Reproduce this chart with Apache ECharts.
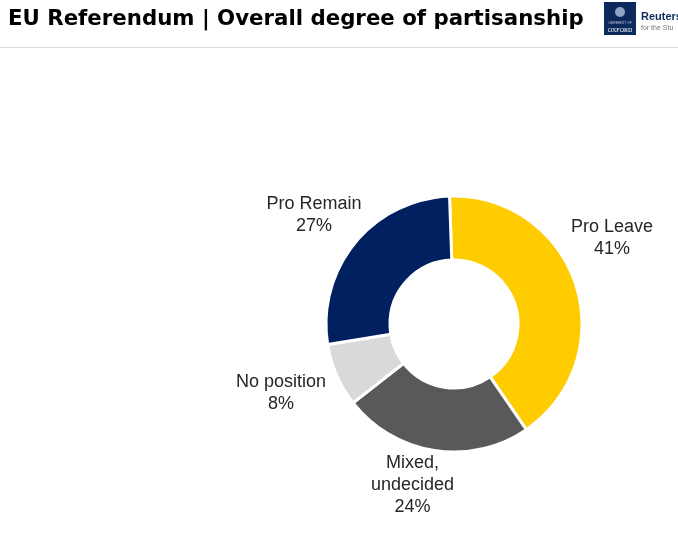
<!DOCTYPE html>
<html>
<head>
<meta charset="utf-8">
<script src="https://cdn.jsdelivr.net/npm/echarts@6/dist/echarts.min.js"></script>
<style>html,body{margin:0;padding:0;background:#fff;}#c{width:678px;height:549px;}</style>
</head>
<body>
<div id="c"></div>
<script>
const categories = ['Pro Leave', 'Mixed,\nundecided', 'No position', 'Pro Remain'];
const values = [41, 24, 8, 27];
const colors = ['#FFCC00', '#595959', '#D9D9D9', '#002060'];

const CX = 454, CY = 324, LABEL_R = 180;
// small manual label nudges (layout only)
const labelNudge = [[-13, -30], [-14, -17], [-8, -3], [-1, 5]];

const chart = echarts.init(document.getElementById('c'));
chart.setOption({
  animation: false,
  graphic: [
    { type: 'text', left: 8, top: 9, style: { text: 'EU Referendum | Overall degree of partisanship', font: 'bold 21.3px "DejaVu Sans"', fill: '#000' } },
    { type: 'line', shape: { x1: 0, y1: 47.5, x2: 678, y2: 47.5 }, style: { stroke: '#d9d9d9', lineWidth: 1 } },
    { type: 'rect', shape: { x: 604, y: 2, width: 32, height: 33 }, style: { fill: '#0b2a5b' } },
    { type: 'circle', shape: { cx: 620, cy: 12, r: 5 }, style: { fill: '#8fa3c4' } },
    { type: 'text', x: 620, y: 22, style: { text: 'UNIVERSITY OF', font: '3px sans-serif', fill: '#ccd', align: 'center' } },
    { type: 'text', x: 620, y: 27, style: { text: 'OXFORD', font: '6px serif', fill: '#fff', align: 'center' } },
    { type: 'text', x: 641, y: 11, style: { text: 'Reuters', font: 'bold 11px "Liberation Sans Narrow", "Liberation Sans"', fill: '#0b2a5b' } },
    { type: 'text', x: 641, y: 25, style: { text: 'for the Stu', font: '7px "Liberation Sans"', fill: '#777' } }
  ],
  series: [{
    type: 'pie',
    center: [CX, CY],
    radius: [64, 128],
    startAngle: 92,
    clockwise: true,
    avoidLabelOverlap: false,
    itemStyle: { borderColor: '#fff', borderWidth: 3 },
    label: {
      show: true,
      position: 'outside',
      overflow: 'none',
      width: 200,
      formatter: p => p.name + '\n' + p.value + '%',
      fontFamily: 'Liberation Sans',
      fontSize: 18,
      color: '#262626',
      lineHeight: 22
    },
    labelLine: { show: true, length: 5, length2: 5, lineStyle: { opacity: 0, width: 0 } },
    labelLayout: function (p) {
      const pts = p.labelLinePoints;
      if (!pts) return {};
      const dx = pts[0][0] - CX, dy = pts[0][1] - CY;
      const d = Math.sqrt(dx * dx + dy * dy) || 1;
      const n = labelNudge[p.dataIndex] || [0, 0];
      return {
        x: CX + dx / d * LABEL_R + n[0],
        y: CY + dy / d * LABEL_R + n[1],
        align: 'center',
        verticalAlign: 'middle',
        labelLinePoints: [pts[0], pts[0], pts[0]]
      };
    },
    data: categories.map((c, i) => ({ name: c, value: values[i], itemStyle: { color: colors[i] } }))
  }]
});
</script>
</body>
</html>
